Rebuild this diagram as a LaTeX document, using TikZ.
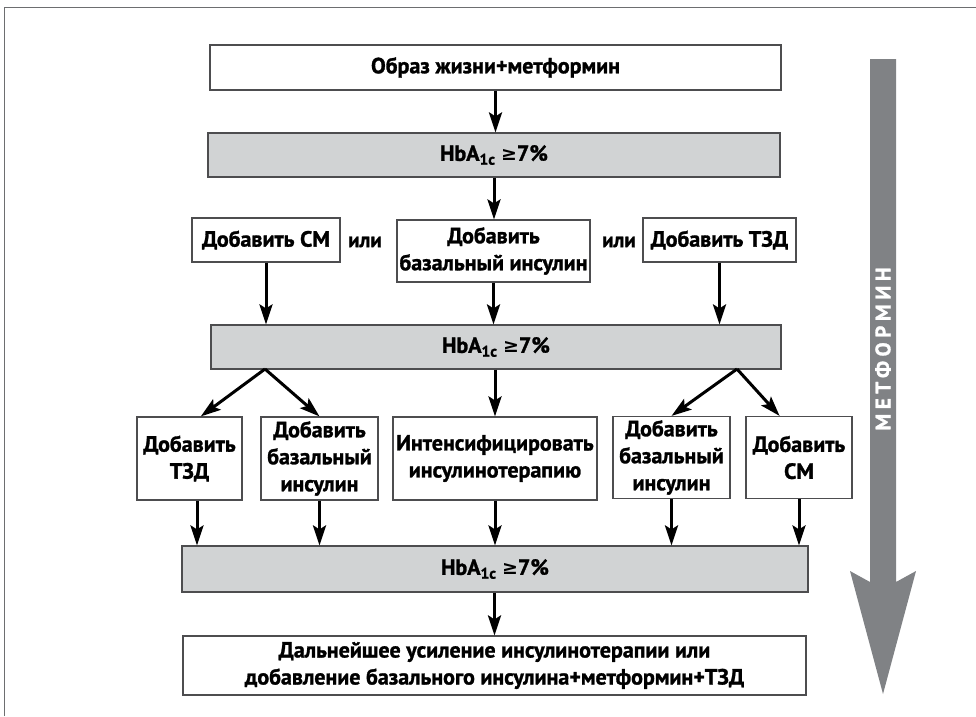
\documentclass[tikz,border=0pt]{standalone}
\usepackage{fontspec}
\setmainfont{PT Sans}[BoldFeatures={FakeBold=1.3}]
\newfontfamily\metfont{PT Sans}[LetterSpace=22,BoldFeatures={FakeBold=1.3}]
\newfontfamily\symfont{DejaVu Sans}
\usetikzlibrary{arrows.meta}
\definecolor{hbgray}{HTML}{D1D3D4}
\definecolor{metgray}{HTML}{808285}
\definecolor{boxline}{HTML}{4D4D4F}
\definecolor{framegray}{HTML}{6D6E70}
\newcommand{\hbtext}{HbA\textsubscript{1c} {\symfont\bfseries\fontsize{19}{24}\selectfont ≥}7\%}
\tikzset{
  box/.style={draw=boxline, line width=1.2pt, align=center, inner sep=0pt,
    font=\fontsize{22}{27}\selectfont\bfseries},
  hbbox/.style={box, fill=hbgray},
  ortext/.style={font=\fontsize{21}{27}\selectfont\bfseries},
  arr/.style={-{Stealth[length=20pt,width=13pt,inset=4pt]}, line width=3pt},
}

\begin{document}
\begin{tikzpicture}[x=1pt,y=1pt,yscale=-1]
\useasboundingbox (0,0) rectangle (976,716);
% frame
\draw [framegray, line width=1pt] (4,716) -- (4,7) -- (976,7);

% metformin arrow
\fill [metgray] (870,59) -- (896,59) -- (896,582) -- (916,571) -- (883,694)
  -- (850,571) -- (870,582) -- cycle;
\node [rotate=90, text=white, font=\metfont\fontsize{21}{24}\selectfont\bfseries] (met) at (883,349) {МЕТФОРМИН};

% first step
\node [box, minimum width=571, minimum height=45] (b1) at (495.5,67.5) {Образ жизни+метформин};
\node [hbbox, minimum width=572, minimum height=44] (h1) at (494,155) {\hbtext};

% second step
\node [box, minimum width=148, minimum height=44] (s1) at (266,240) {Добавить СМ};
\node [box, minimum width=193, minimum height=62] (s2) at (493.5,251) {Добавить\\базальный инсулин};
\node [box, minimum width=153, minimum height=44] (s3) at (719.5,240) {Добавить ТЗД};
\node [ortext] (or1) at (365,242) {или};
\node [ortext] (or2) at (619,242) {или};
\node [hbbox, minimum width=570, minimum height=44] (h2) at (496,347) {\hbtext};

% third step
\node [box, minimum width=105, minimum height=83] (r3a) at (189.5,458.5) {Добавить\\ТЗД};
\node [box, minimum width=117, minimum height=83] (r3b) at (319.5,458.5) {Добавить\\базальный\\инсулин};
\node [box, minimum width=204, minimum height=83] (r3c) at (495,458.5) {Интенсифицировать\\инсулинотерапию};
\node [box, minimum width=117, minimum height=82] (r3d) at (671.5,457.5) {Добавить\\базальный\\инсулин};
\node [box, minimum width=106, minimum height=82] (r3e) at (799,457.5) {Добавить\\СМ};
\node [hbbox, minimum width=626, minimum height=46] (h3) at (495,569) {\hbtext};

% last step
\node [box, minimum width=623, minimum height=59] (fin) at (494.5,665.5) {Дальнейшее усиление инсулинотерапии или\\добавление базального инсулина+метформин+ТЗД};

\coordinate (fork1) at (265,369);
\coordinate (fork2) at (737,369);

% arrows
\draw [arr] (b1.south) -- (b1.south |- h1.north);
\draw [arr] (h1.south) -- (h1.south |- s2.north);
\draw [arr] (s1.south) -- (s1.south |- h2.north);
\draw [arr] (s2.south) -- (s2.south |- h2.north);
\draw [arr] (s3.south) -- (s3.south |- h2.north);
\draw [arr] (fork1) -- (r3a.75);
\draw [arr] (fork1) -- (r3b.north);
\draw [arr] (h2.south -| r3c.north) -- (r3c.north);
\draw [arr] (fork2) -- (r3d.north);
\draw [arr] (fork2) -- (r3e.115);
\draw [arr] ([xshift=7.5]r3a.south) -- ([xshift=7.5]r3a.south |- h3.north);
\draw [arr] (r3b.south) -- (r3b.south |- h3.north);
\draw [arr] (r3c.south) -- (r3c.south |- h3.north);
\draw [arr] (r3d.south) -- (r3d.south |- h3.north);
\draw [arr] (r3e.south) -- (r3e.south |- h3.north);
\draw [arr] (h3.south -| fin.north) -- (fin.north);

\end{tikzpicture}
\end{document}
